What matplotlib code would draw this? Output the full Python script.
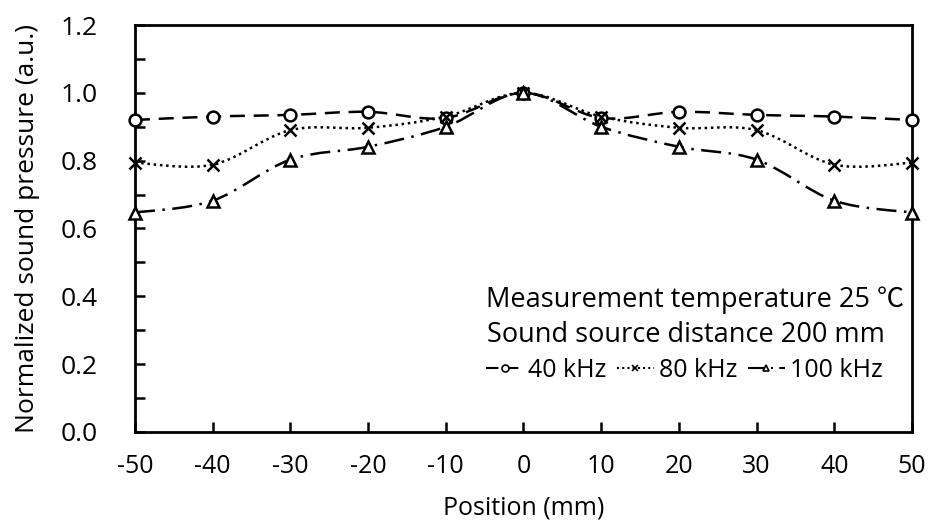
import numpy as np
import matplotlib
matplotlib.use('Agg')
import matplotlib.pyplot as plt
from matplotlib.path import Path
from matplotlib.patches import PathPatch
from matplotlib.lines import Line2D

plt.rcParams['font.family'] = ['Open Sans', 'Noto Sans CJK JP', 'DejaVu Sans']
plt.rcParams['axes.unicode_minus'] = False

# Data
position = [-50, -40, -30, -20, -10, 0, 10, 20, 30, 40, 50]
p_40k = [0.92, 0.93, 0.935, 0.944, 0.926, 1.0, 0.926, 0.944, 0.935, 0.93, 0.92]
p_80k = [0.794, 0.788, 0.89, 0.897, 0.93, 1.0, 0.93, 0.897, 0.89, 0.788, 0.794]
p_100k = [0.647, 0.682, 0.803, 0.841, 0.90, 1.0, 0.90, 0.841, 0.803, 0.682, 0.647]
labels = ['40 kHz', '80 kHz', '100 kHz']


# Excel-style smoothed line: Catmull-Rom segments as cubic Bezier curves
def smooth_path(x, y):
    x = np.asarray(x, float)
    y = np.asarray(y, float)
    n = len(x)
    verts = [(x[0], y[0])]
    codes = [Path.MOVETO]
    for i in range(n - 1):
        i0 = max(i - 1, 0)
        i3 = min(i + 2, n - 1)
        c1 = (x[i] + (x[i + 1] - x[i0]) / 6, y[i] + (y[i + 1] - y[i0]) / 6)
        c2 = (x[i + 1] - (x[i3] - x[i]) / 6, y[i + 1] - (y[i3] - y[i]) / 6)
        verts += [c1, c2, (x[i + 1], y[i + 1])]
        codes += [Path.CURVE4] * 3
    return Path(verts, codes)


fig = plt.figure(figsize=(9.48, 5.32), dpi=100)
ax = fig.add_axes([0.1424, 0.188, 0.8196, 0.765])

styles = [
    dict(ls=(0, (6, 3.5)), marker='o', ms=8.5),
    dict(ls=(0, (1, 1.5)), marker='x', ms=9),
    dict(ls=(0, (8, 3, 1, 3)), marker='^', ms=8.5),
]
handles = []
for yv, st, lab in zip([p_40k, p_80k, p_100k], styles, labels):
    patch = PathPatch(smooth_path(position, yv), facecolor='none', edgecolor='black',
                      lw=1.8, linestyle=st['ls'], zorder=2)
    ax.add_patch(patch)
    ax.plot(position, yv, ls='none', marker=st['marker'], ms=st['ms'], mfc='white',
            mec='black', mew=1.8, zorder=3, clip_on=False)
    handles.append(Line2D([], [], color='black', lw=1.5, linestyle=st['ls'],
                          marker=st['marker'], ms=5, mfc='white', mec='black', mew=1.2))

ax.set_xlim(-50, 50)
ax.set_ylim(0, 1.2)
ax.set_xticks(position)
ax.set_yticks(np.arange(0, 1.21, 0.2))
ax.set_yticks(np.arange(0, 1.21, 0.1), minor=True)
ax.set_yticklabels(['%.1f' % v for v in np.arange(0, 1.21, 0.2)])
ax.tick_params(axis='both', direction='in', length=7, width=1.8, color='black')
ax.tick_params(axis='y', which='minor', direction='in', length=7, width=1.8)
ax.tick_params(axis='x', pad=16, labelsize=18)
ax.tick_params(axis='y', pad=27, labelsize=19)
for s in ax.spines.values():
    s.set_linewidth(2)

ax.set_xlabel('Position (mm)', fontsize=18, labelpad=12)
ax.set_ylabel('Normalized sound pressure (a.u.)', fontsize=19, labelpad=15)

ax.text(0.99, 0.324, 'Measurement temperature 25 \u2103', transform=ax.transAxes,
        fontsize=19.5, ha='right', va='center')
ax.text(0.965, 0.238, 'Sound source distance 200 mm', transform=ax.transAxes,
        fontsize=19.5, ha='right', va='center')
ax.legend(handles, labels, ncol=3, loc='center right', bbox_to_anchor=(0.985, 0.152),
          frameon=False, fontsize=18, handlelength=1.5, handletextpad=0.2,
          columnspacing=0.4, borderpad=0.2)

fig.savefig('out.png', dpi=100)
